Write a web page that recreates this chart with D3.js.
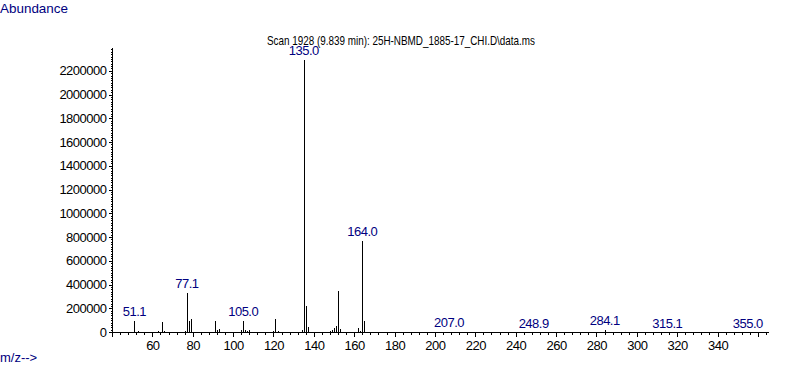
<!DOCTYPE html>
<html>
<head>
<meta charset="utf-8">
<script src="https://cdn.jsdelivr.net/npm/d3@7"></script>
<style>
  body { margin: 0; background: #fff; }
  svg { display: block; font-family: "Liberation Sans", Arial, sans-serif; }
  .axis text { font-size: 13px; letter-spacing: -0.5px; fill: #000; }
  .axis path, .axis line { stroke: #000; shape-rendering: crispEdges; }
</style>
</head>
<body>
<svg id="chart" width="787" height="367"></svg>
<script>
// spectrum: m/z and abundance
var mz = [51.1, 52, 53, 54, 55, 57, 62, 63, 64, 65, 66, 67, 68,
  74, 75, 76, 77.1, 78, 79, 80, 81, 89, 90, 91, 92, 93, 94,
  103, 104, 105.0, 106, 107, 108, 109, 118, 119, 120, 121, 122, 123,
  131, 132, 133, 134, 135.0, 136, 137, 138, 147, 148, 149, 150, 151, 152, 153, 154,
  162, 163, 164.0, 165, 166, 207.0, 248.9, 283, 284.1, 285, 315.1, 355.0];
var abundance = [97000, 12000, 14000, 8000, 10000, 5000, 6000, 15000, 8000, 91000, 14000, 6000, 8000,
  8000, 12000, 18000, 333000, 99000, 116000, 6000, 8000, 10000, 12000, 97000, 24000, 30000, 12000,
  10000, 22000, 104000, 28000, 19000, 24000, 8000, 8000, 8000, 14000, 122000, 19000, 8000,
  6000, 8000, 8000, 28000, 2298000, 230000, 53000, 10000, 8000, 19000, 25000, 40000, 62000, 357000, 34000, 6000,
  45000, 19000, 771000, 98000, 10000, 10000, 3000, 8000, 23000, 10000, 3000, 3000];
// peaks that carry a label
var labelled = [51.1, 77.1, 105.0, 135.0, 164.0, 207.0, 248.9, 284.1, 315.1, 355.0];

var yMajor = d3.range(0, 2200001, 200000);
var yMinor = d3.range(0, 2400000, 20000);
var xMajor = d3.range(40, 365, 20);
var xMinor = d3.range(40, 366, 4);

var navy = '#000080';
var svg = d3.select('#chart');

var x = d3.scaleLinear().domain([40, 365]).range([112, 768]);
var y = d3.scaleLinear().domain([0, 2400000]).range([332, 47]);

// y axis
svg.append('g').attr('class', 'axis').attr('transform', 'translate(112,0)')
  .call(d3.axisLeft(y).tickValues(yMinor).tickSize(1).tickSizeOuter(0).tickFormat(''));
svg.append('g').attr('class', 'axis').attr('transform', 'translate(112,0)')
  .call(d3.axisLeft(y).tickValues(yMajor).tickSize(3).tickSizeOuter(0).tickPadding(2.5).tickFormat(d3.format('d')))
  .select('.domain').remove();

// x axis
svg.append('g').attr('class', 'axis').attr('transform', 'translate(0,332)')
  .call(d3.axisBottom(x).tickValues(xMinor).tickSize(3).tickSizeOuter(0).tickFormat(''));
svg.append('g').attr('class', 'axis').attr('transform', 'translate(0,332)')
  .call(d3.axisBottom(x).tickValues(xMajor).tickSize(5).tickSizeOuter(0).tickPadding(4)
    .tickFormat(function (d) { return (d >= 60 && d <= 340) ? d : ''; }))
  .select('.domain').remove();

// peaks
var peaks = mz.map(function (m, i) { return { mz: m, v: abundance[i] }; });
svg.append('g').selectAll('line').data(peaks).enter().append('line')
  .attr('x1', function (d) { return Math.round(x(d.mz)) + 0.5; })
  .attr('x2', function (d) { return Math.round(x(d.mz)) + 0.5; })
  .attr('y1', y(0) + 0.5)
  .attr('y2', function (d) { return Math.round(y(d.v)) + 0.5; })
  .attr('stroke', '#000')
  .attr('shape-rendering', 'crispEdges');

// peak labels
svg.append('g').selectAll('text').data(peaks.filter(function (d) { return labelled.indexOf(d.mz) >= 0; }))
  .enter().append('text')
  .attr('x', function (d) { return x(d.mz); })
  .attr('y', function (d) { return y(d.v) - 4; })
  .attr('text-anchor', 'middle')
  .attr('font-size', 13)
  .attr('letter-spacing', '-0.5px')
  .attr('fill', navy)
  .text(function (d) { return d.mz.toFixed(1); });

// texts
svg.append('text').attr('x', 0).attr('y', 13).attr('font-size', 13)
  .attr('textLength', 68).attr('lengthAdjust', 'spacingAndGlyphs')
  .attr('fill', navy).text('Abundance');
svg.append('text').attr('x', 0).attr('y', 362).attr('font-size', 13)
  .attr('fill', navy).text('m/z-->');
svg.append('text').attr('x', 267).attr('y', 45).attr('font-size', 13)
  .attr('textLength', 268).attr('lengthAdjust', 'spacingAndGlyphs')
  .attr('fill', '#000').text('Scan 1928 (9.839 min): 25H-NBMD_1885-17_CHI.D\\data.ms');
</script>
</body>
</html>
